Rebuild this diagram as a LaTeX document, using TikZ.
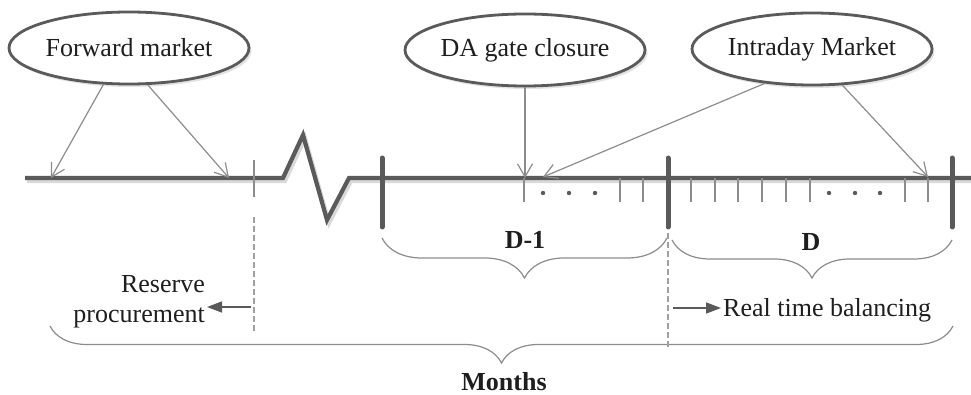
\documentclass[tikz,border=0pt]{standalone}
\usepackage{fontspec}
\setmainfont{Liberation Serif}
\usetikzlibrary{arrows.meta,shapes.geometric,decorations.pathreplacing,shadows}
\definecolor{axisgray}{HTML}{5A5A5A}
\definecolor{thingray}{HTML}{8C8C8C}
\definecolor{dashgray}{HTML}{A0A0A0}
\definecolor{inkcol}{HTML}{1E1E1E}
\tikzset{
  bubble/.style={ellipse, draw=axisgray, line width=2.8pt, fill=white,
    minimum width=240pt, minimum height=72pt, inner sep=0pt,
    drop shadow={shadow xshift=2.5pt, shadow yshift=-3pt, opacity=0.22},
    font=\fontsize{26}{30}\selectfont, text=inkcol},
  pointer/.style={draw=thingray, line width=1.2pt,
    -{Straight Barb[length=13pt,width=15pt]}},
  axis/.style={draw=axisgray, line width=4.2pt, line join=miter},
  axisshadow/.style={draw=black!15, line width=4.2pt, line join=miter},
  daytick/.style={draw=axisgray, line width=5pt, line cap=round},
  hourtick/.style={draw=thingray, line width=1.3pt},
  divider/.style={draw=dashgray, line width=1.1pt, dash pattern=on 6pt off 3pt},
  span/.style={draw=thingray, line width=1.2pt, decorate},
  lbl/.style={font=\fontsize{26}{30}\selectfont, text=inkcol, inner sep=2pt},
  boldlbl/.style={lbl, font=\fontsize{26}{30}\selectfont\bfseries},
  flowarrow/.style={draw=axisgray, line width=1.6pt,
    -{Triangle[length=15pt,width=11pt]}},
  dotmark/.style={fill=axisgray, draw=none}
}
\begin{document}
\begin{tikzpicture}[x=1pt,y=-1pt]
\useasboundingbox (0,0) rectangle (971,395);

% time axis with a break between forward trading and the day-ahead day
\draw[axisshadow, shift={(2,3)}] (25,178) -- (283,178) -- (303,135) -- (327,220) -- (349,178) -- (971,178);
\draw[axis] (25,178) -- (283,178) -- (303,135) -- (327,220) -- (349,178) -- (971,178);

% day boundaries
\draw[daytick] (382,158) -- (382,227);
\draw[daytick] (668,158) -- (668,227);
\draw[daytick] (952,158) -- (952,227);

% end of the forward period
\draw[hourtick] (254,160) -- (254,197);

% hourly ticks in D-1
\foreach \xx in {524,620,643} \draw[hourtick] (\xx,178) -- (\xx,202);
\foreach \xx in {543,569,595} \fill[dotmark] (\xx,193) circle (2.2pt);
% hourly ticks in D
\foreach \xx in {691,715,738,762,786,810,905,928} \draw[hourtick] (\xx,178) -- (\xx,202);
\foreach \xx in {829,855,880} \fill[dotmark] (\xx,193) circle (2.2pt);

% market bubbles
\node[bubble] (fwd) at (129,48) {Forward market};
\node[bubble] (dagc) at (525,50) {DA gate closure};
\node[bubble] (intra) at (812,49) {Intraday Market};

% pointers onto the axis
\coordinate (fwdA) at (51,178);
\coordinate (fwdB) at (229,178);
\coordinate (gate) at (525,178);
\coordinate (idA) at (543,177);
\coordinate (idB) at (928,177);
\draw[pointer] (fwd.235) -- (fwdA);
\draw[pointer] (fwd.297) -- (fwdB);
\draw[pointer] (dagc.south) -- (gate);
\draw[pointer] (intra.216) -- (idA);
\draw[pointer] (intra.310) -- (idB);

% period braces
\draw[span, decoration={brace, mirror, amplitude=40pt}] (382,238) -- (667,238);
\draw[span, decoration={brace, mirror, amplitude=38pt}] (672,240) -- (952,240);
\draw[span, decoration={brace, mirror, amplitude=37pt}] (50,326) -- (953,326);
\node[boldlbl] (dm1) at (525,240) {D-1};
\node[boldlbl] (dd) at (811,242) {D};
\node[boldlbl] (months) at (504,382) {Months};

% dashed dividers
\draw[divider] (254,217) -- (254,332);
\draw[divider] (668,233) -- (668,348);

% reserve procurement and real-time balancing
\node[lbl, anchor=east, align=right] (rp) at (207,302) {Reserve\\procurement};
\coordinate (rs) at (251,307);
\draw[flowarrow] (rs) -- (rs -| rp.east);
\node[lbl, anchor=west] (rtb) at (721,310) {Real time balancing};
\coordinate (rt) at (673,308);
\draw[flowarrow] (rt) -- (rt -| rtb.west);
\end{tikzpicture}
\end{document}
